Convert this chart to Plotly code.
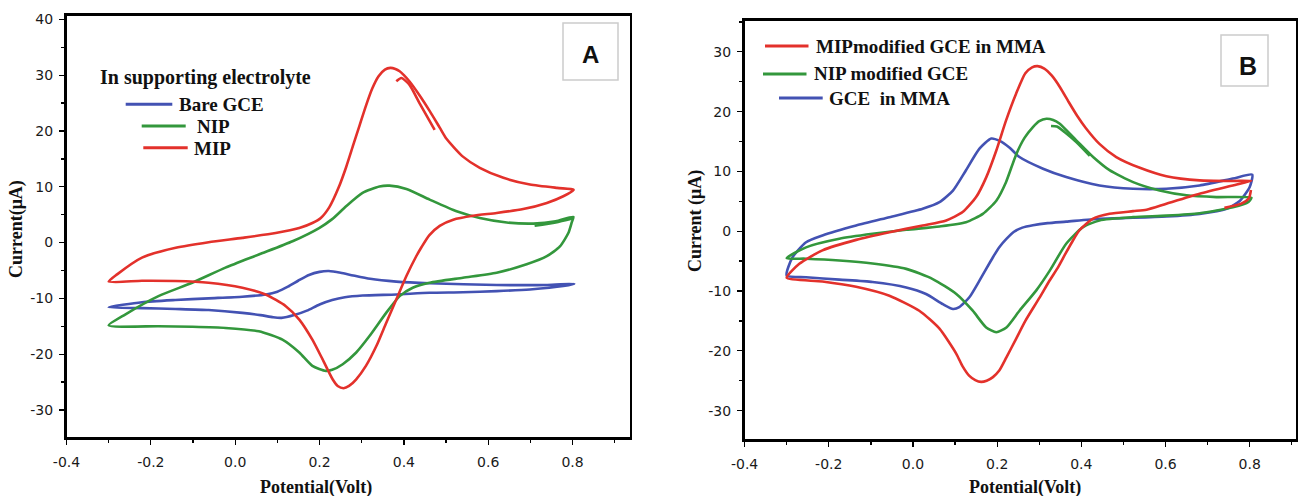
import plotly.graph_objects as go

W, H = 1298, 496

# ---------------- Panel A data (Potential V, Current uA) ----------------
a_mip_x = [-0.300, -0.280, -0.221, -0.141, -0.063, 0.017, 0.096, 0.152, 0.183, 0.203, 0.223, 0.245, 0.263, 0.280,
           0.295, 0.310, 0.325, 0.340, 0.355, 0.368, 0.380, 0.390, 0.400, 0.413, 0.437, 0.461, 0.485, 0.501, 0.540,
           0.580, 0.636, 0.699, 0.763, 0.802,
           0.802, 0.778, 0.739, 0.683, 0.620, 0.564, 0.517, 0.485, 0.460, 0.442, 0.429, 0.406, 0.382, 0.358, 0.335,
           0.310, 0.287, 0.270, 0.257, 0.243, 0.231, 0.207, 0.183, 0.152, 0.120, 0.072, 0.017, -0.063, -0.142,
           -0.221, -0.300,
           None, 0.382, 0.394, 0.413, 0.437, 0.473]
a_mip_y = [-7.0, -5.7, -2.7, -0.95, 0.05, 0.84, 1.7, 2.6, 3.5, 4.4, 6.3, 9.8, 13.5, 17.5,
           21.0, 24.5, 27.6, 29.8, 31.0, 31.3, 31.1, 30.7, 30.0, 28.9, 26.4, 23.6, 20.6, 18.6, 15.4,
           13.4, 11.6, 10.4, 9.8, 9.5,
           9.4, 8.3, 7.1, 6.0, 5.3, 4.8, 4.1, 3.0, 1.3, -0.8, -2.5, -6.0, -10.2, -14.4, -18.5,
           -22.1, -24.5, -25.7, -26.1, -25.7, -24.5, -20.9, -17.4, -13.8, -11.4, -9.3, -8.1, -7.2, -6.9,
           -6.85, -7.0,
           None, 28.9, 29.5, 28.3, 25.0, 20.2]

a_nip_x = [-0.300, -0.261, -0.182, -0.102, -0.023, 0.056, 0.136, 0.199, 0.230, 0.263, 0.302, 0.342, 0.366, 0.406,
           0.461, 0.525, 0.580, 0.644, 0.707, 0.760, 0.802,
           0.798, 0.790, 0.770, 0.739, 0.691, 0.620, 0.540, 0.461, 0.421, 0.390, 0.358, 0.318, 0.287, 0.255,
           0.230, 0.215, 0.183, 0.152, 0.112, 0.056, -0.023, -0.102, -0.182, -0.300,
           None, 0.710, 0.760, 0.800]
a_nip_y = [-14.85, -12.9, -9.6, -7.2, -4.5, -2.15, 0.23, 2.6, 4.2, 6.5, 8.9, 10.05, 10.2, 9.6,
           7.7, 5.6, 4.4, 3.6, 3.4, 3.8, 4.6,
           3.6, 1.7, -0.7, -2.45, -3.9, -5.4, -6.3, -7.2, -8.1, -9.6, -12.6, -16.8, -19.7, -21.8,
           -22.8, -23.0, -22.1, -19.7, -17.4, -15.9, -15.3, -15.1, -15.0, -14.85,
           None, 3.0, 3.6, 4.3]

a_bare_x = [-0.300, -0.221, -0.142, -0.063, 0.017, 0.073, 0.100, 0.125, 0.150, 0.175, 0.200, 0.222, 0.250, 0.280,
            0.320, 0.382, 0.461, 0.620, 0.740, 0.804,
            0.778, 0.699, 0.620, 0.540, 0.461, 0.382, 0.302, 0.260, 0.230, 0.200, 0.170, 0.140, 0.110, 0.090,
            0.060, 0.017, -0.063, -0.142, -0.221, -0.300]
a_bare_y = [-11.6, -10.7, -10.3, -10.0, -9.7, -9.3, -8.8, -7.9, -6.8, -5.8, -5.25, -5.1, -5.4, -5.9,
            -6.5, -7.0, -7.3, -7.6, -7.6, -7.4,
            -7.8, -8.4, -8.7, -8.9, -9.0, -9.3, -9.5, -9.8, -10.3, -11.1, -12.2, -13.0, -13.5, -13.4,
            -13.0, -12.6, -12.1, -11.9, -11.75, -11.6]

# ---------------- Panel B data ----------------
b_mip_x = [-0.300, -0.270, -0.215, -0.135, -0.056, 0.023, 0.079, 0.118, 0.150, 0.174, 0.198, 0.221, 0.245, 0.267,
           0.283, 0.296, 0.312, 0.330, 0.350, 0.370, 0.390, 0.410, 0.443, 0.483, 0.539, 0.602, 0.681, 0.760, 0.804,
           0.760, 0.681, 0.602, 0.555, 0.523, 0.467, 0.428, 0.396, 0.378, 0.362, 0.345, 0.325, 0.300, 0.267,
           0.245, 0.222, 0.205, 0.190, 0.175, 0.162, 0.148, 0.134, 0.118, 0.103, 0.063, 0.015, -0.056, -0.135,
           -0.215, -0.300,
           None, 0.803, 0.798, 0.780, 0.740]
b_mip_y = [-7.8, -5.46, -3.2, -1.45, -0.17, 0.95, 1.8, 3.2, 5.7, 9.0, 13.5, 18.5, 23.0, 26.4,
           27.4, 27.6, 27.2, 26.0, 24.0, 21.6, 19.3, 17.3, 14.6, 12.4, 10.6, 9.2, 8.5, 8.4, 8.4,
           7.65, 6.26, 4.6, 3.6, 3.35, 2.9, 2.1, 0.2, -1.8, -3.8, -6.0, -8.2, -11.2, -15.0,
           -18.0, -21.1, -23.3, -24.4, -25.0, -25.2, -24.9, -24.2, -22.6, -20.5, -16.3, -13.3, -10.8, -9.3,
           -8.4, -7.8,
           None, 6.9, 5.5, 4.6, 3.9]

b_nip_x = [-0.300, -0.254, -0.175, -0.096, -0.016, 0.063, 0.126, 0.166, 0.198, 0.221, 0.245, 0.265, 0.285, 0.300,
           0.317, 0.333, 0.348, 0.388, 0.428, 0.467, 0.523, 0.586, 0.650, 0.721, 0.804,
           0.797, 0.760, 0.681, 0.602, 0.523, 0.443, 0.404, 0.364, 0.325, 0.293, 0.253, 0.222, 0.198, 0.174,
           0.142, 0.103, 0.047, -0.016, -0.096, -0.175, -0.254, -0.300,
           None, 0.328, 0.342, 0.360, 0.388, 0.420]
b_nip_y = [-4.5, -2.7, -1.27, -0.44, 0.23, 0.79, 1.5, 2.9, 5.1, 8.2, 12.8, 15.6, 17.4, 18.4,
           18.8, 18.6, 18.0, 15.2, 12.4, 10.2, 8.2, 6.8, 6.0, 5.7, 5.6,
           4.9, 4.0, 3.0, 2.6, 2.35, 1.8, 0.67, -2.1, -6.6, -9.9, -13.3, -16.1, -16.9, -16.1,
           -13.3, -10.5, -8.0, -6.3, -5.4, -4.9, -4.6, -4.5,
           None, 17.6, 17.5, 16.6, 14.9, 12.6]

b_gce_x = [-0.300, -0.286, -0.254, -0.215, -0.135, -0.056, 0.023, 0.063, 0.095, 0.126, 0.158, 0.186, 0.206, 0.229,
           0.253, 0.309, 0.364, 0.443, 0.523, 0.602, 0.681, 0.760, 0.806,
           0.800, 0.777, 0.745, 0.681, 0.602, 0.523, 0.443, 0.364, 0.320, 0.285, 0.260, 0.240, 0.222, 0.206,
           0.190, 0.158, 0.134, 0.110, 0.095, 0.071, 0.031, -0.016, -0.096, -0.175, -0.254, -0.300]
b_gce_y = [-7.4, -4.35, -1.84, -0.72, 0.95, 2.35, 3.75, 4.86, 6.8, 10.2, 13.8, 15.5, 15.1, 14.0,
           12.4, 10.45, 9.05, 7.65, 7.1, 7.1, 7.65, 8.8, 9.45,
           7.4, 5.1, 3.75, 2.9, 2.46, 2.24, 2.07, 1.6, 1.35, 1.0, 0.6, -0.1, -1.3, -2.6,
           -4.35, -8.26, -11.05, -12.7, -13.0, -12.2, -10.5, -9.4, -8.5, -8.1, -7.7, -7.4]

# ---------------- Tick labels ----------------
x_tickvals = [-0.4, -0.2, 0.0, 0.2, 0.4, 0.6, 0.8]
x_ticktext = ["-0.4", "-0.2", "0.0", "0.2", "0.4", "0.6", "0.8"]
ya_tickvals = [-30, -20, -10, 0, 10, 20, 30, 40]
ya_ticktext = ["-30", "-20", "-10", "0", "10", "20", "30", "40"]
yb_tickvals = [-30, -20, -10, 0, 10, 20, 30]
yb_ticktext = ["-30", "-20", "-10", "0", "10", "20", "30"]

RED, GREEN, BLUE = "#e3312b", "#33973c", "#4352b3"

fig = go.Figure()
def add(x, y, color, name, xa, ya):
    fig.add_trace(go.Scatter(x=x, y=y, mode="lines", name=name, xaxis=xa, yaxis=ya,
                             line=dict(color=color, width=2.6, shape="spline", smoothing=0.6),
                             connectgaps=False, showlegend=False))

add(a_bare_x, a_bare_y, BLUE, "Bare GCE", "x", "y")
add(a_nip_x, a_nip_y, GREEN, "NIP", "x", "y")
add(a_mip_x, a_mip_y, RED, "MIP", "x", "y")
add(b_gce_x, b_gce_y, BLUE, "GCE  in MMA", "x2", "y2")
add(b_nip_x, b_nip_y, GREEN, "NIP modified GCE", "x2", "y2")
add(b_mip_x, b_mip_y, RED, "MIPmodified GCE in MMA", "x2", "y2")

TICKFONT = dict(family="DejaVu Sans", size=14, color="#1a1a1a")
common_x = dict(showline=True, linewidth=2.6, linecolor="black", mirror=True, ticks="outside",
                ticklen=5, tickwidth=1.3, tickcolor="black",
                tickmode="array", tickvals=x_tickvals, ticktext=x_ticktext,
                minor=dict(ticks="outside", ticklen=3, tickwidth=1.3, tickcolor="black",
                           tickmode="linear", tick0=-0.4, dtick=0.1),
                showgrid=False, zeroline=False, tickfont=TICKFONT, automargin=False, ticklabelstandoff=5)
common_y = dict(showline=True, linewidth=2.6, linecolor="black", mirror=True, ticks="outside",
                ticklen=5, tickwidth=1.3, tickcolor="black",
                minor=dict(ticks="outside", ticklen=3, tickwidth=1.3, tickcolor="black",
                           tickmode="linear", tick0=0, dtick=5),
                showgrid=False, zeroline=False, tickfont=TICKFONT, automargin=False, ticklabelstandoff=3)

fig.update_layout(
    width=W, height=H, margin=dict(l=0, r=0, t=0, b=0),
    paper_bgcolor="white", plot_bgcolor="white", showlegend=False,
    xaxis=dict(common_x, domain=[66.5 / W, 629.5 / W], range=[-0.4, 0.935], anchor="y"),
    yaxis=dict(common_y, domain=[1 - 437.3 / H, 1 - 16 / H], range=[-34.9, 40.6], anchor="x",
               tickmode="array", tickvals=ya_tickvals, ticktext=ya_ticktext),
    xaxis2=dict(common_x, domain=[744.6 / W, 1296 / W], range=[-0.4, 0.91], anchor="y2"),
    yaxis2=dict(common_y, domain=[1 - 439.3 / H, 1 - 20.7 / H], range=[-34.8, 35.2], anchor="x2",
                tickmode="array", tickvals=yb_tickvals, ticktext=yb_ticktext),
)

SERIF = "Liberation Serif, Times New Roman, serif"
def px(x): return x / W
def py(y): return 1 - y / H

anns = []
shapes = []
def text(x, y, s, size=19, anchor="left", angle=0, family=SERIF, bold=True):
    anns.append(dict(x=px(x), y=py(y), xref="paper", yref="paper", text=(f"<b>{s}</b>" if bold else s),
                     showarrow=False, xanchor=anchor, yanchor="middle", textangle=angle,
                     font=dict(family=family, size=size, color="#111")))
def seg(x0, x1, y, color):
    shapes.append(dict(type="line", xref="paper", yref="paper", x0=px(x0), x1=px(x1), y0=py(y), y1=py(y),
                       line=dict(color=color, width=3)))
def box(x0, y0, x1, y1):
    shapes.append(dict(type="rect", xref="paper", yref="paper", x0=px(x0), x1=px(x1), y0=py(y1), y1=py(y0),
                       line=dict(color="#cccccc", width=1.5), fillcolor="white", layer="below"))

# Panel A legend
text(98.3, 78, "In supporting electrolyte", size=20)
seg(125.7, 172.3, 104.3, BLUE); text(177.3, 105, "Bare GCE")
seg(141.7, 185.7, 126, GREEN); text(195, 126, "NIP")
seg(143.3, 187.7, 147.7, RED); text(191.7, 148.7, "MIP")
# Panel B legend
seg(765, 808.5, 46, RED); text(813.8, 46.7, "MIPmodified GCE in MMA")
seg(763, 806.5, 74, GREEN); text(811.7, 74, "NIP modified GCE")
seg(779, 822.7, 98, BLUE); text(826.8, 98.7, "GCE\u00a0 in MMA")

# Panel labels
box(563, 23, 618, 80); text(590, 54, "A", size=24, anchor="center", family="Liberation Sans, Arial")
box(1221, 35, 1268, 86); text(1247.7, 65.7, "B", size=25, anchor="center", family="Liberation Sans, Arial")

# Axis titles
text(316, 487, "Potential(Volt)", size=18, anchor="center")
text(1025, 487, "Potential(Volt)", size=18, anchor="center")
text(16, 229, "Current(\u03bcA)", size=18, anchor="center", angle=-90)
text(695.6, 221.5, "Current (\u03bcA)", size=18, anchor="center", angle=-90)

fig.update_layout(annotations=anns, shapes=shapes)
fig.write_html("out.html", config={"displayModeBar": False, "staticPlot": True},
               post_script="document.body.style.margin='0';document.body.style.overflow='hidden';")
